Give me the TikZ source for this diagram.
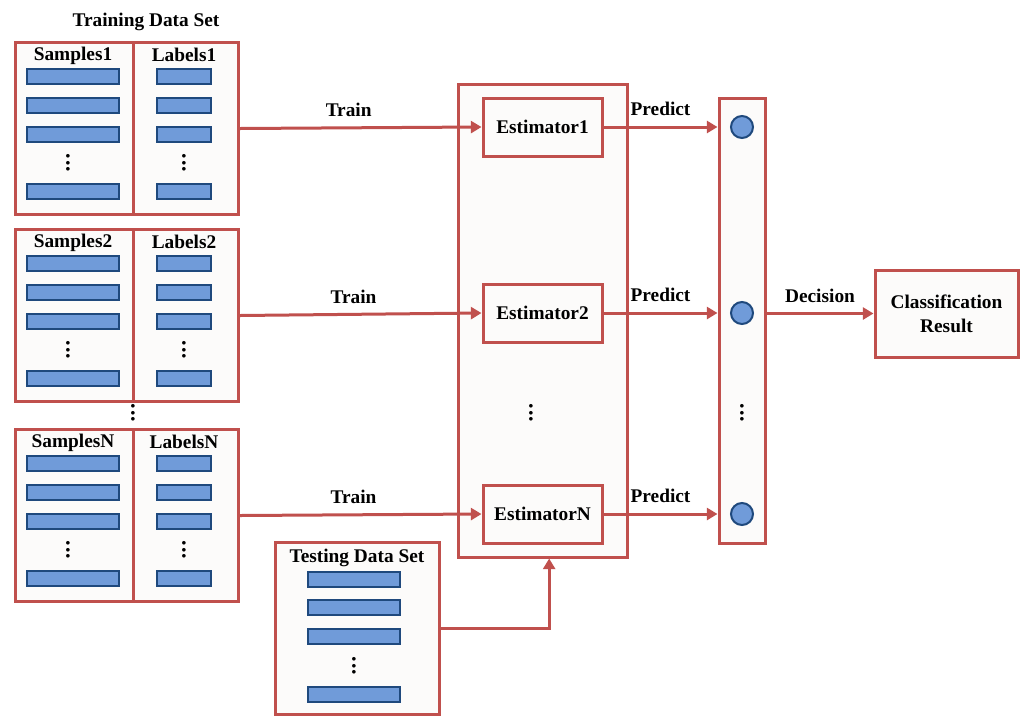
\documentclass[tikz,border=0pt]{standalone}
\usepackage{fontspec}
\setmainfont{Liberation Serif}
\newfontfamily\dvfont{DejaVu Sans}
\usetikzlibrary{arrows.meta}
\definecolor{redl}{RGB}{192,80,77}
\definecolor{boxfill}{RGB}{252,251,250}
\definecolor{barfill}{RGB}{112,155,217}
\definecolor{bardraw}{RGB}{31,73,125}
\begin{document}
\begin{tikzpicture}[x=0.75pt,y=-0.75pt,
  font=\fontsize{14.5}{18}\selectfont\bfseries,
  wh/.style 2 args={minimum width=#1*0.75pt, minimum height=#2*0.75pt},
  box/.style={draw=redl, line width=2.25pt, fill=boxfill, inner sep=0pt},
  bar/.style={draw=bardraw, line width=1.5pt, fill=barfill, inner sep=0pt},
  dot/.style={draw=bardraw, line width=1.5pt, fill=barfill, circle, inner sep=0pt, minimum size=16.5pt},
  arr/.style={draw=redl, line width=2.25pt, -{Triangle[length=8pt,width=9pt]}},
  lbl/.style={above=6pt, inner sep=1pt},
  vd/.style={inner sep=0pt, align=center, font=\dvfont\fontsize{3.6}{4.7}\selectfont}]
\useasboundingbox (0,0) rectangle (1024,715);

\newcommand\dotcol{●\\●\\●}
\newcommand\mkset[3]{%
  \node[box, wh={118}{172}, anchor=north west] (s#1) at (14,#2) {};
  \node[box, wh={105}{172}, anchor=north west] (l#1) at (132,#2) {};
  \node (st#1) at (73,#2+15) {Samples#3};
  \node (lt#1) at (184,#2+14) {Labels#3};
  \foreach \dy [count=\i] in {35.5,64,93,150} {
    \node[bar, wh={92}{15}] (sb#1-\i) at (73,#2+\dy) {};
    \node[bar, wh={54}{15}] (lb#1-\i) at (184,#2+\dy) {};
  }
  \node[vd] (sd#1) at (68,#2+122) {\dotcol};
  \node[vd] (ld#1) at (184,#2+122) {\dotcol};
}

\node (tds) at (146,22) {Training Data Set};
\mkset{1}{41}{1}
\mkset{2}{228}{2}
\mkset{3}{428}{N}
\node[vd] (setdots) at (133,413) {\dotcol};

% ensemble
\node[box, wh={169}{473}] (ens) at (542.5,320.5) {};
\node[box, wh={119}{58}] (e1) at (542.5,127) {Estimator1};
\node[box, wh={119}{58}] (e2) at (542.5,313) {Estimator2};
\node[box, wh={119}{58}] (e3) at (542.5,514) {EstimatorN};
\node[vd] (edots) at (531,413) {\dotcol};

% column of outputs
\node[box, wh={46}{445}] (col) at (742,320.5) {};
\node[dot] (c1) at (742,127) {};
\node[dot] (c2) at (742,313) {};
\node[dot] (c3) at (742,514) {};
\node[vd] (cdots) at (742,413) {\dotcol};

% classification result
\node[box, wh={143}{87}, align=center] (cr) at (946.5,313.5) {Classification\\Result};

% testing data set
\node[box, wh={164}{172}] (test) at (357,628) {};
\node (tt) at (357,558) {Testing Data Set};
\foreach \dy [count=\i] in {579.5,607.5,636.5,694} {
  \node[bar, wh={92}{15}] (tb\i) at (354,\dy) {};
}
\node[vd] (tdots) at (354,666) {\dotcol};

% connectors
\draw[arr] (l1.east) -- node[lbl, pos=0.45] {Train} (e1.west);
\draw[arr] (l2.east) -- node[lbl, pos=0.47] {Train} (e2.west);
\draw[arr] (l3.east) -- node[lbl, pos=0.47] {Train} (e3.west);
\draw[arr] (e1.east) -- node[lbl] {Predict} (e1.east -| col.west);
\draw[arr] (e2.east) -- node[lbl] {Predict} (e2.east -| col.west);
\draw[arr] (e3.east) -- node[lbl] {Predict} (e3.east -| col.west);
\draw[arr] (cr.west -| col.east) -- node[lbl] {Decision} (cr.west);
\draw[arr] (test.east) -| ([xshift=5pt]ens.south);
\end{tikzpicture}
\end{document}
